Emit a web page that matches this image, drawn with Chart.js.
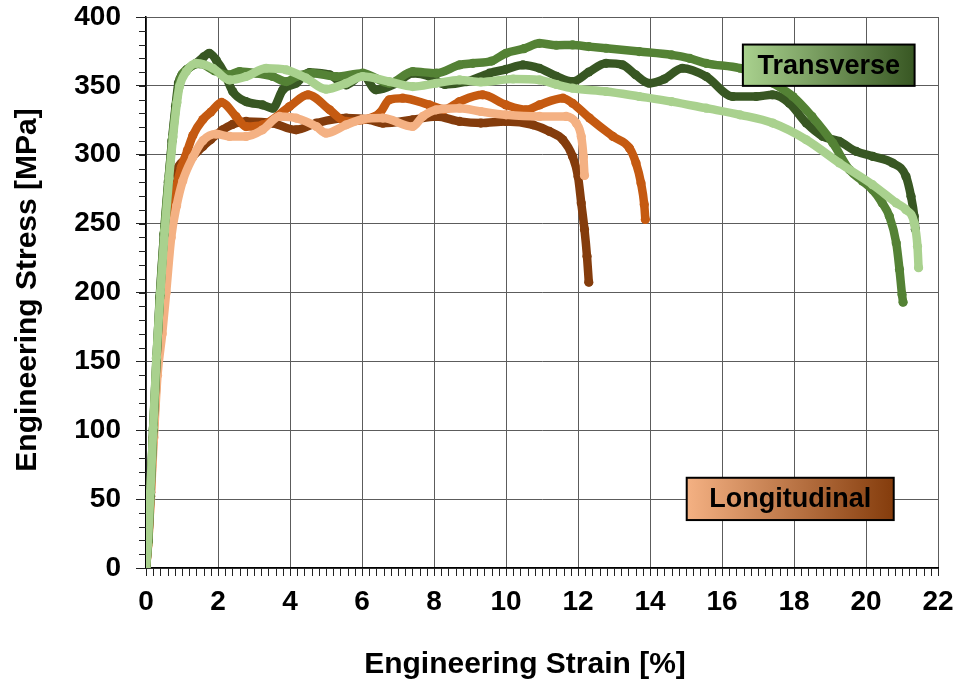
<!DOCTYPE html>
<html>
<head>
<meta charset="utf-8">
<title>Engineering stress-strain curves</title>
<script src="https://cdn.jsdelivr.net/npm/chart.js@4.4.1/dist/chart.umd.min.js"></script>
<style>
  html, body { margin: 0; padding: 0; background: #fff; }
  #wrap { width: 958px; height: 684px; }
</style>
</head>
<body>
<div id="wrap"><canvas id="chart1" width="958" height="684"></canvas></div>
<script>
// tensile test curves, strain in %, stress in MPa
var strainT1 = [0, 0.06, 0.12, 0.2, 0.29, 0.38, 0.5, 0.62, 0.72, 0.82, 0.9, 1.0, 1.12, 1.39, 1.6, 1.76, 1.95, 2.18, 2.41, 2.78, 3.24, 3.52, 3.8, 4.17, 4.54, 5.1, 5.56, 6.02, 6.39, 6.95, 7.41, 7.87, 8.3, 8.9, 9.54, 10.0, 10.47, 10.93, 11.4, 11.85, 12.3, 12.78, 13.24, 13.6, 13.98, 14.4, 14.9, 15.56, 16.3, 16.95, 17.4, 17.87, 18.34, 18.8, 19.26, 19.73, 20.19, 20.74, 21.11, 21.25, 21.34, 21.37];
var stressT1 = [1, 20, 52, 100, 150, 196, 242, 280, 310, 335, 352, 358, 361.6, 366.4, 371, 373.7, 368.8, 359.2, 345.9, 338.6, 336.2, 333.8, 347.1, 351.9, 359.7, 358, 350.7, 358, 347.1, 351.9, 359.2, 357, 351, 353, 359.2, 362, 365.2, 362.8, 357, 353.1, 360, 366.4, 365.2, 358, 351.9, 355, 362.8, 356.8, 342.3, 342.3, 343.5, 337.4, 323, 313.3, 309.7, 302.4, 298.8, 294, 284.3, 269.8, 255.3, 246];

var strainT2 = [0, 0.06, 0.12, 0.2, 0.29, 0.39, 0.5, 0.62, 0.73, 0.84, 0.95, 1.15, 1.5, 1.9, 2.3, 2.6, 3.06, 3.52, 3.9, 4.2, 4.63, 5.28, 6.02, 6.76, 7.41, 8.06, 8.71, 9.08, 9.6, 10.0, 10.5, 10.93, 11.4, 11.85, 12.3, 12.78, 13.7, 14.6, 15.1, 15.56, 16.5, 17.0, 17.41, 17.97, 18.5, 19.08, 19.54, 19.9, 20.18, 20.45, 20.65, 20.84, 20.93, 21.0, 21.03];
var stressT2 = [0, 19, 54, 101, 152, 198, 243, 281, 311, 337, 355, 362, 366, 361, 358, 360.4, 359.2, 356.8, 353.1, 357, 359.2, 356.8, 359.2, 351.9, 360.4, 359.2, 365.2, 366.4, 368, 373.7, 377, 380.9, 379.5, 379.7, 378.5, 377.3, 374.9, 372.5, 370, 366.4, 362.8, 358, 352, 342.3, 327.8, 308.5, 289.1, 281, 274.6, 265, 255.3, 236, 216.7, 198.6, 193];

var strainT3 = [0, 0.05, 0.12, 0.2, 0.29, 0.4, 0.52, 0.64, 0.75, 0.86, 0.93, 1.12, 1.39, 1.86, 2.32, 2.78, 3.34, 3.9, 4.45, 5.0, 5.56, 6.02, 6.76, 7.41, 8.06, 8.71, 9.3, 10.2, 10.93, 11.4, 11.85, 12.78, 13.7, 14.6, 15.56, 16.5, 17.41, 18.34, 19.26, 20.18, 20.84, 21.11, 21.34, 21.43, 21.46];
var stressT3 = [0, 17, 55, 102, 153, 200, 245, 283, 313, 338, 349.5, 360.4, 366.4, 362.8, 354.3, 356.8, 362.8, 361.6, 355.6, 347.6, 351.9, 356.8, 353.1, 349.5, 351.9, 354.3, 352.8, 355, 354.3, 351, 348.3, 345.9, 342.3, 338.6, 333.8, 329, 323, 310.9, 294, 278.3, 265, 260.1, 250.5, 233.6, 218];

var strainL1 = [0, 0.06, 0.13, 0.2, 0.3, 0.4, 0.5, 0.62, 0.75, 0.9, 1.12, 1.3, 1.58, 1.8, 2.13, 2.4, 2.78, 3.52, 4.17, 4.73, 5.56, 6.21, 6.58, 7.41, 8.06, 8.71, 9.3, 10.0, 10.75, 11.21, 11.58, 11.85, 12.0, 12.09, 12.18, 12.25, 12.3];
var stressL1 = [0, 20, 55, 95, 145, 190, 228, 258, 275, 291, 296.6, 299, 306, 311, 318.1, 322, 324.2, 322.9, 318.1, 322.9, 326.6, 325.4, 322.9, 325.4, 327.8, 324.2, 323, 324.2, 321.7, 316.9, 310.9, 298.8, 284.3, 265, 245.7, 226.3, 207.5];

var strainL2 = [0, 0.06, 0.13, 0.2, 0.3, 0.4, 0.5, 0.62, 0.8, 0.98, 1.15, 1.3, 1.58, 1.8, 2.1, 2.5, 2.78, 3.24, 3.99, 4.5, 5.1, 5.56, 6.02, 6.49, 6.76, 7.13, 7.87, 8.3, 8.71, 9.35, 10.0, 10.56, 10.93, 11.58, 11.85, 12.32, 12.97, 13.43, 13.61, 13.75, 13.84, 13.87];
var stressL2 = [0, 18, 52, 92, 140, 182, 225, 250, 272, 291, 303, 314, 325.6, 331, 338, 327.8, 320.5, 321.7, 335, 343.5, 332.6, 324.2, 325.4, 330.2, 339.9, 341.1, 336.2, 333, 338.6, 343.5, 336.2, 332.6, 336.2, 341.1, 337.4, 326.6, 313.3, 304.8, 294, 279.5, 263.8, 253];

var strainL3 = [0, 0.06, 0.13, 0.22, 0.32, 0.45, 0.56, 0.7, 0.85, 1.02, 1.3, 1.58, 1.95, 2.32, 2.78, 3.24, 3.71, 4.17, 4.73, 5.0, 5.56, 6.02, 6.58, 7.41, 7.69, 8.06, 8.71, 9.3, 10.0, 10.93, 11.67, 11.95, 12.09, 12.15, 12.18];
var stressL3 = [0, 17, 50, 95, 140, 170, 200, 240, 263, 281, 298.1, 310.2, 315, 313.3, 313.3, 318.1, 327.8, 326.6, 320.5, 315.7, 321.7, 325.8, 326.6, 320.5, 327.8, 332.6, 333.8, 331.4, 329, 327.8, 327.8, 323, 313.3, 298.8, 285];

var xTicks = [0, 2, 4, 6, 8, 10, 12, 14, 16, 18, 20, 22];
var yTicks = [0, 50, 100, 150, 200, 250, 300, 350, 400];

var FONT = '"Liberation Sans", Arial, Helvetica, sans-serif';

function pts(xs, ys) {
    return xs.map(function (x, i) { return { x: x, y: ys[i] }; });
}

function curve(xs, ys, color) {
    return {
        data: pts(xs, ys),
        showLine: true,
        borderColor: color,
        backgroundColor: color,
        borderWidth: 8.5,
        borderCapStyle: 'round',
        borderJoinStyle: 'round',
        cubicInterpolationMode: 'monotone',
        pointRadius: 4.6,
        pointBorderWidth: 0,
        pointHoverRadius: 4.6
    };
}

// minor tick marks on both axes
var minorTicks = {
    id: 'minorTicks',
    afterDraw: function (chart) {
        var ctx = chart.ctx, a = chart.chartArea;
        var xs = chart.scales.x, ys = chart.scales.y;
        ctx.save();
        ctx.strokeStyle = '#222';
        ctx.lineWidth = 1;
        ctx.beginPath();
        for (var i = 0; i <= 110; i++) {
            var px = Math.round(xs.getPixelForValue(i / 5)) + 0.5;
            ctx.moveTo(px, a.bottom);
            ctx.lineTo(px, a.bottom + 8);
        }
        for (var j = 0; j <= 40; j++) {
            var py = Math.round(ys.getPixelForValue(j * 10)) + 0.5;
            ctx.moveTo(a.left - 7, py);
            ctx.lineTo(a.left, py);
        }
        ctx.stroke();
        ctx.restore();
    }
};

// axis titles
var axisTitles = {
    id: 'axisTitles',
    afterDraw: function (chart) {
        var ctx = chart.ctx;
        ctx.save();
        ctx.fillStyle = '#000';
        ctx.font = 'bold 30px ' + FONT;
        ctx.textAlign = 'center';
        ctx.textBaseline = 'middle';
        ctx.fillText('Engineering Strain [%]', 525, 665);
        ctx.translate(28, 290);
        ctx.rotate(-Math.PI / 2);
        ctx.fillText('Engineering Stress [MPa]', 0, 0);
        ctx.restore();
    }
};

// group labels with gradient fill
var groupBoxes = {
    id: 'groupBoxes',
    afterDatasetsDraw: function (chart) {
        var ctx = chart.ctx;
        var xs = chart.scales.x, ys = chart.scales.y;
        var boxes = [
            { text: 'Transverse', x0: 16.58, x1: 21.35, y0: 380, y1: 350, c0: '#a9d18e', c1: '#385723' },
            { text: 'Longitudinal', x0: 15.02, x1: 20.77, y0: 65.5, y1: 34.8, c0: '#f4b183', c1: '#843c0c' }
        ];
        ctx.save();
        boxes.forEach(function (b) {
            var l = xs.getPixelForValue(b.x0), r = xs.getPixelForValue(b.x1);
            var t = ys.getPixelForValue(b.y0), btm = ys.getPixelForValue(b.y1);
            var g = ctx.createLinearGradient(l, 0, r, 0);
            g.addColorStop(0, b.c0);
            g.addColorStop(1, b.c1);
            ctx.fillStyle = g;
            ctx.fillRect(l, t, r - l, btm - t);
            ctx.strokeStyle = '#000';
            ctx.lineWidth = 2;
            ctx.strokeRect(l, t, r - l, btm - t);
            ctx.fillStyle = '#000';
            ctx.font = 'bold 27px ' + FONT;
            ctx.textAlign = 'center';
            ctx.textBaseline = 'middle';
            ctx.fillText(b.text, (l + r) / 2, (t + btm) / 2 + 1);
        });
        ctx.restore();
    }
};

var chartEl = document.getElementById('chart1');
new Chart(chartEl, {
    type: 'scatter',
    data: {
        datasets: [
            curve(strainT3, stressT3, '#a9d18e'),
            curve(strainT2, stressT2, '#548235'),
            curve(strainT1, stressT1, '#385723'),
            curve(strainL3, stressL3, '#f4b183'),
            curve(strainL2, stressL2, '#c55a11'),
            curve(strainL1, stressL1, '#843c0c')
        ]
    },
    options: {
        responsive: false,
        animation: false,
        layout: { padding: { top: 17, right: 20, left: 0, bottom: 0 } },
        plugins: {
            legend: { display: false },
            tooltip: { enabled: false }
        },
        scales: {
            x: {
                type: 'linear',
                min: 0,
                max: 22,
                afterBuildTicks: function (s) { s.ticks = xTicks.map(function (v) { return { value: v }; }); },
                afterFit: function (s) {
                    s.height = 116;
                    s.paddingLeft = 0;
                    s.paddingRight = 0;
                },
                ticks: {
                    color: '#000',
                    padding: 9,
                    maxRotation: 0,
                    font: { family: FONT, size: 28, weight: 'bold' }
                },
                grid: { color: '#5c5c5c', lineWidth: 1, tickLength: 8, tickColor: '#222' },
                border: { color: '#000', width: 1.5 }
            },
            y: {
                min: 0,
                max: 400,
                afterBuildTicks: function (s) { s.ticks = yTicks.map(function (v) { return { value: v }; }); },
                afterFit: function (s) {
                    s.width = 146;
                    s.paddingTop = 0;
                    s.paddingBottom = 0;
                },
                ticks: {
                    color: '#000',
                    padding: 15,
                    font: { family: FONT, size: 28, weight: 'bold' }
                },
                grid: { color: '#5c5c5c', lineWidth: 1, tickLength: 10, tickColor: '#222' },
                border: { color: '#000', width: 1.5 }
            }
        }
    },
    plugins: [minorTicks, axisTitles, groupBoxes]
});
</script>
</body>
</html>
